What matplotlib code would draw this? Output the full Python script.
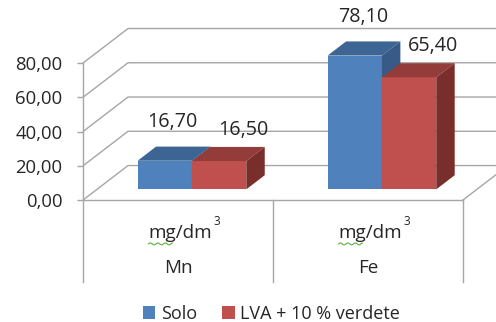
import numpy as np
import matplotlib
matplotlib.use("Agg")
import matplotlib.pyplot as plt
from matplotlib.patches import Polygon, Patch

# Data
categories = ["Mn", "Fe"]
unit_text = "mg/dm"
unit_power = "3"
series_names = ["Solo", "LVA + 10 % verdete"]
solo = [16.70, 78.10]
lva = [16.50, 65.40]
yticks = [0, 20, 40, 60, 80]

plt.rcParams['font.family'] = ['Open Sans', 'DejaVu Sans']
TEXT = '#262626'
GRID = '#A6A6A6'

W, H, DPI = 496, 322, 100
fig = plt.figure(figsize=(W / DPI, H / DPI), dpi=DPI)
ax = fig.add_axes([0, 0, 1, 1])
ax.set_xlim(-0.937, 1.674)
ax.set_ylim(-71.2, 116.8)

# Oblique depth vector of the plot box (x in category units, y in value units)
DX, DY = 0.237, 20.15
D_FRONT, D_BACK = 0.31, 0.72          # depth slab occupied by the columns
BAR_W = 0.286

# Walls: gridlines on the side wall and back wall
x_left = -0.5
for v in yticks:
    ax.plot([x_left, x_left + DX, 2.0], [v, v + DY, v + DY],
            color=GRID, lw=1.0, zorder=1, solid_capstyle='butt')
# Floor front and right edges
ax.plot([x_left, 1.5], [0, 0], color=GRID, lw=1.0, zorder=1)
ax.plot([1.5, 1.5 + DX], [0, DY], color=GRID, lw=1.0, zorder=1)
# Category separators below the floor
cat_bottom = -47.9
for xb in [0.5, 1.5]:
    ax.plot([xb, xb], [0, cat_bottom], color=GRID, lw=1.0, zorder=1)

# Value axis
for side in ['top', 'right', 'bottom']:
    ax.spines[side].set_visible(False)
ax.spines['left'].set_position(('data', x_left))
ax.spines['left'].set_bounds(cat_bottom, 80)
ax.spines['left'].set_color(GRID)
ax.spines['left'].set_linewidth(1.0)
ax.set_xticks([])
ax.set_yticks(yticks)
ax.set_yticklabels([f"{v:.2f}".replace('.', ',') for v in yticks])
ax.tick_params(axis='y', direction='out', length=4.3, width=1.0, color=GRID,
               pad=10.5, labelsize=13.3, labelcolor=TEXT)


def draw_prism(x0, value, front, top, side):
    fx = x0 + D_FRONT * DX
    fb = D_FRONT * DY
    dx = (D_BACK - D_FRONT) * DX
    dy = (D_BACK - D_FRONT) * DY
    ax.bar(fx, value, width=BAR_W, bottom=fb, align='edge',
           color=front, linewidth=0, zorder=3)
    t = fb + value
    ax.add_patch(Polygon([(fx, t), (fx + BAR_W, t), (fx + BAR_W + dx, t + dy),
                          (fx + dx, t + dy)], closed=True, facecolor=top,
                         edgecolor='none', zorder=3))
    ax.add_patch(Polygon([(fx + BAR_W, fb), (fx + BAR_W, t),
                          (fx + BAR_W + dx, t + dy), (fx + BAR_W + dx, fb + dy)],
                         closed=True, facecolor=side, edgecolor='none', zorder=3))
    return fx + BAR_W / 2, t


styles = [
    (solo, ('#4F81BD', '#3D6594', '#375A86'), -BAR_W, 0.042, 22.8),
    (lva, ('#C0504D', '#943C3A', '#7A2E2C'), 0.0, 0.126, 18.3),
]
for i in range(len(categories)):
    for values, cols, off, lx, ly in styles:
        cx, t = draw_prism(i + off, values[i], *cols)
        ax.text(cx + lx, t + ly, f"{values[i]:.2f}".replace('.', ','),
                ha='center', va='center', fontsize=14.2, color=TEXT, zorder=5)

# Category labels
for i, cat in enumerate(categories):
    ax.text(i + 0.013, -19.3, unit_text, ha='center', va='center',
            fontsize=13.6, color=TEXT)
    ax.text(i + 0.205, -12.3, unit_power, ha='center', va='center',
            fontsize=8.5, color=TEXT)
    ax.text(i, -39.7, cat, ha='center', va='center', fontsize=13.6, color=TEXT)
    # spell-check squiggle under "mg"
    xs = np.linspace(i - 0.155, i - 0.03, 40)
    ax.plot(xs, -25.6 + 0.55 * np.sin((xs - xs[0]) * 160), color='#5FAF3F',
            lw=0.8, zorder=4)

handles = [Patch(facecolor='#4F81BD'), Patch(facecolor='#C0504D')]
ax.legend(handles, series_names, loc='center', bbox_to_anchor=(0.547, 0.026),
          bbox_transform=fig.transFigure, ncol=2, frameon=False, fontsize=13,
          handlelength=0.7, handleheight=0.7, handletextpad=0.3,
          columnspacing=1.4, labelcolor=TEXT, borderpad=0)

fig.savefig('out.png', dpi=DPI)
